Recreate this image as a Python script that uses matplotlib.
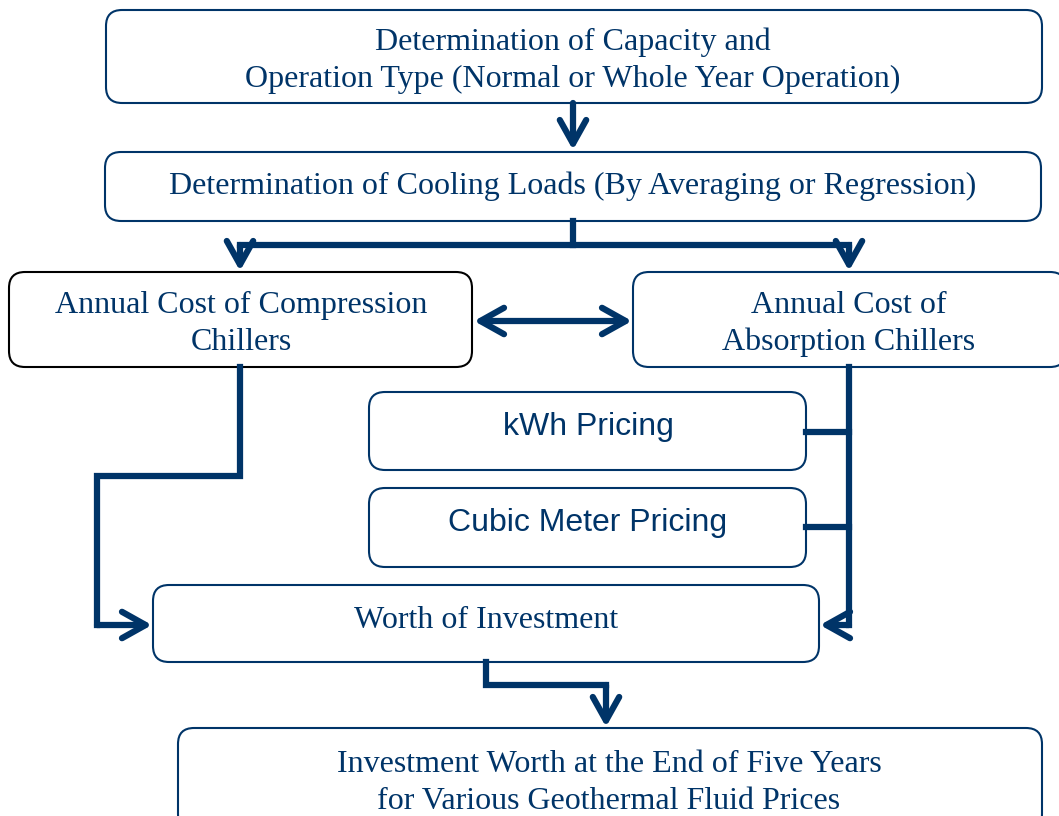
import matplotlib.pyplot as plt
from matplotlib.patches import FancyBboxPatch, FancyArrowPatch

navy = '#003468'

# box labels and their layout (pixel frame of the 1059x816 picture)
labels = [
    'Determination of Capacity and\nOperation Type (Normal or Whole Year Operation)',
    'Determination of Cooling Loads (By Averaging or Regression)',
    'Annual Cost of Compression\nChillers',
    'Annual Cost of\nAbsorption Chillers',
    'kWh Pricing',
    'Cubic Meter Pricing',
    'Worth of Investment',
    'Investment Worth at the End of Five Years\nfor Various Geothermal Fluid Prices',
]
boxes = [
    (106, 10, 1042, 103),
    (105, 152, 1041, 221),
    (9, 272, 472, 367),
    (633, 272, 1066, 367),
    (369, 392, 806, 470),
    (369, 488, 806, 567),
    (153, 585, 819, 662),
    (178, 728, 1042, 830),
]
text_pos = [(573, 61), (573, 186), (241, 324), (849, 324),
            (588, 427), (588, 523), (486, 620), (609, 783)]
sans = [False, False, False, False, True, True, False, False]
edge = [navy, navy, 'black', navy, navy, navy, navy, navy]

fig = plt.figure(figsize=(10.59, 8.16), dpi=100)
ax = fig.add_axes([0, 0, 1, 1])
ax.set_xlim(0, 1059)
ax.set_ylim(816, 0)
ax.axis('off')

for lab, (x0, y0, x1, y1), (tx, ty), s, ec in zip(labels, boxes, text_pos, sans, edge):
    ax.add_patch(FancyBboxPatch((x0, y0), x1 - x0, y1 - y0,
                                boxstyle='round,pad=0,rounding_size=16',
                                fc='white', ec=ec, lw=1.5))
    ax.text(tx, ty, lab, ha='center', va='center', color=navy,
            fontsize=23, linespacing=1.36,
            family='Liberation Sans' if s else 'Liberation Serif')

lw = 4.5
# plain connector lines
segments = [
    [(573, 221), (573, 245)],
    [(240, 245), (849, 245)],
    [(240, 367), (240, 476), (97, 476), (97, 625)],
    [(849, 367), (849, 625)],
    [(806, 432), (849, 432)],
    [(806, 527), (849, 527)],
    [(486, 662), (486, 685), (606, 685)],
]
for seg in segments:
    xs, ys = zip(*seg)
    ax.plot(xs, ys, color=navy, lw=lw, solid_capstyle='projecting',
            solid_joinstyle='miter')

# arrows: (start, end, double headed)
arrows = [
    ((573, 103), (573, 150), False),
    ((240, 245), (240, 271), False),
    ((849, 245), (849, 271), False),
    ((474, 321), (632, 321), True),
    ((97, 625), (152, 625), False),
    ((849, 625), (820, 625), False),
    ((606, 685), (606, 727), False),
]
for start, end, both in arrows:
    style = '<->' if both else '->'
    ax.add_patch(FancyArrowPatch(start, end,
                                 arrowstyle=f'{style},head_length=17,head_width=9.5',
                                 mutation_scale=1, color=navy, lw=lw,
                                 capstyle='round', joinstyle='round',
                                 shrinkA=0, shrinkB=0))

fig.savefig('out.png', dpi=100)
